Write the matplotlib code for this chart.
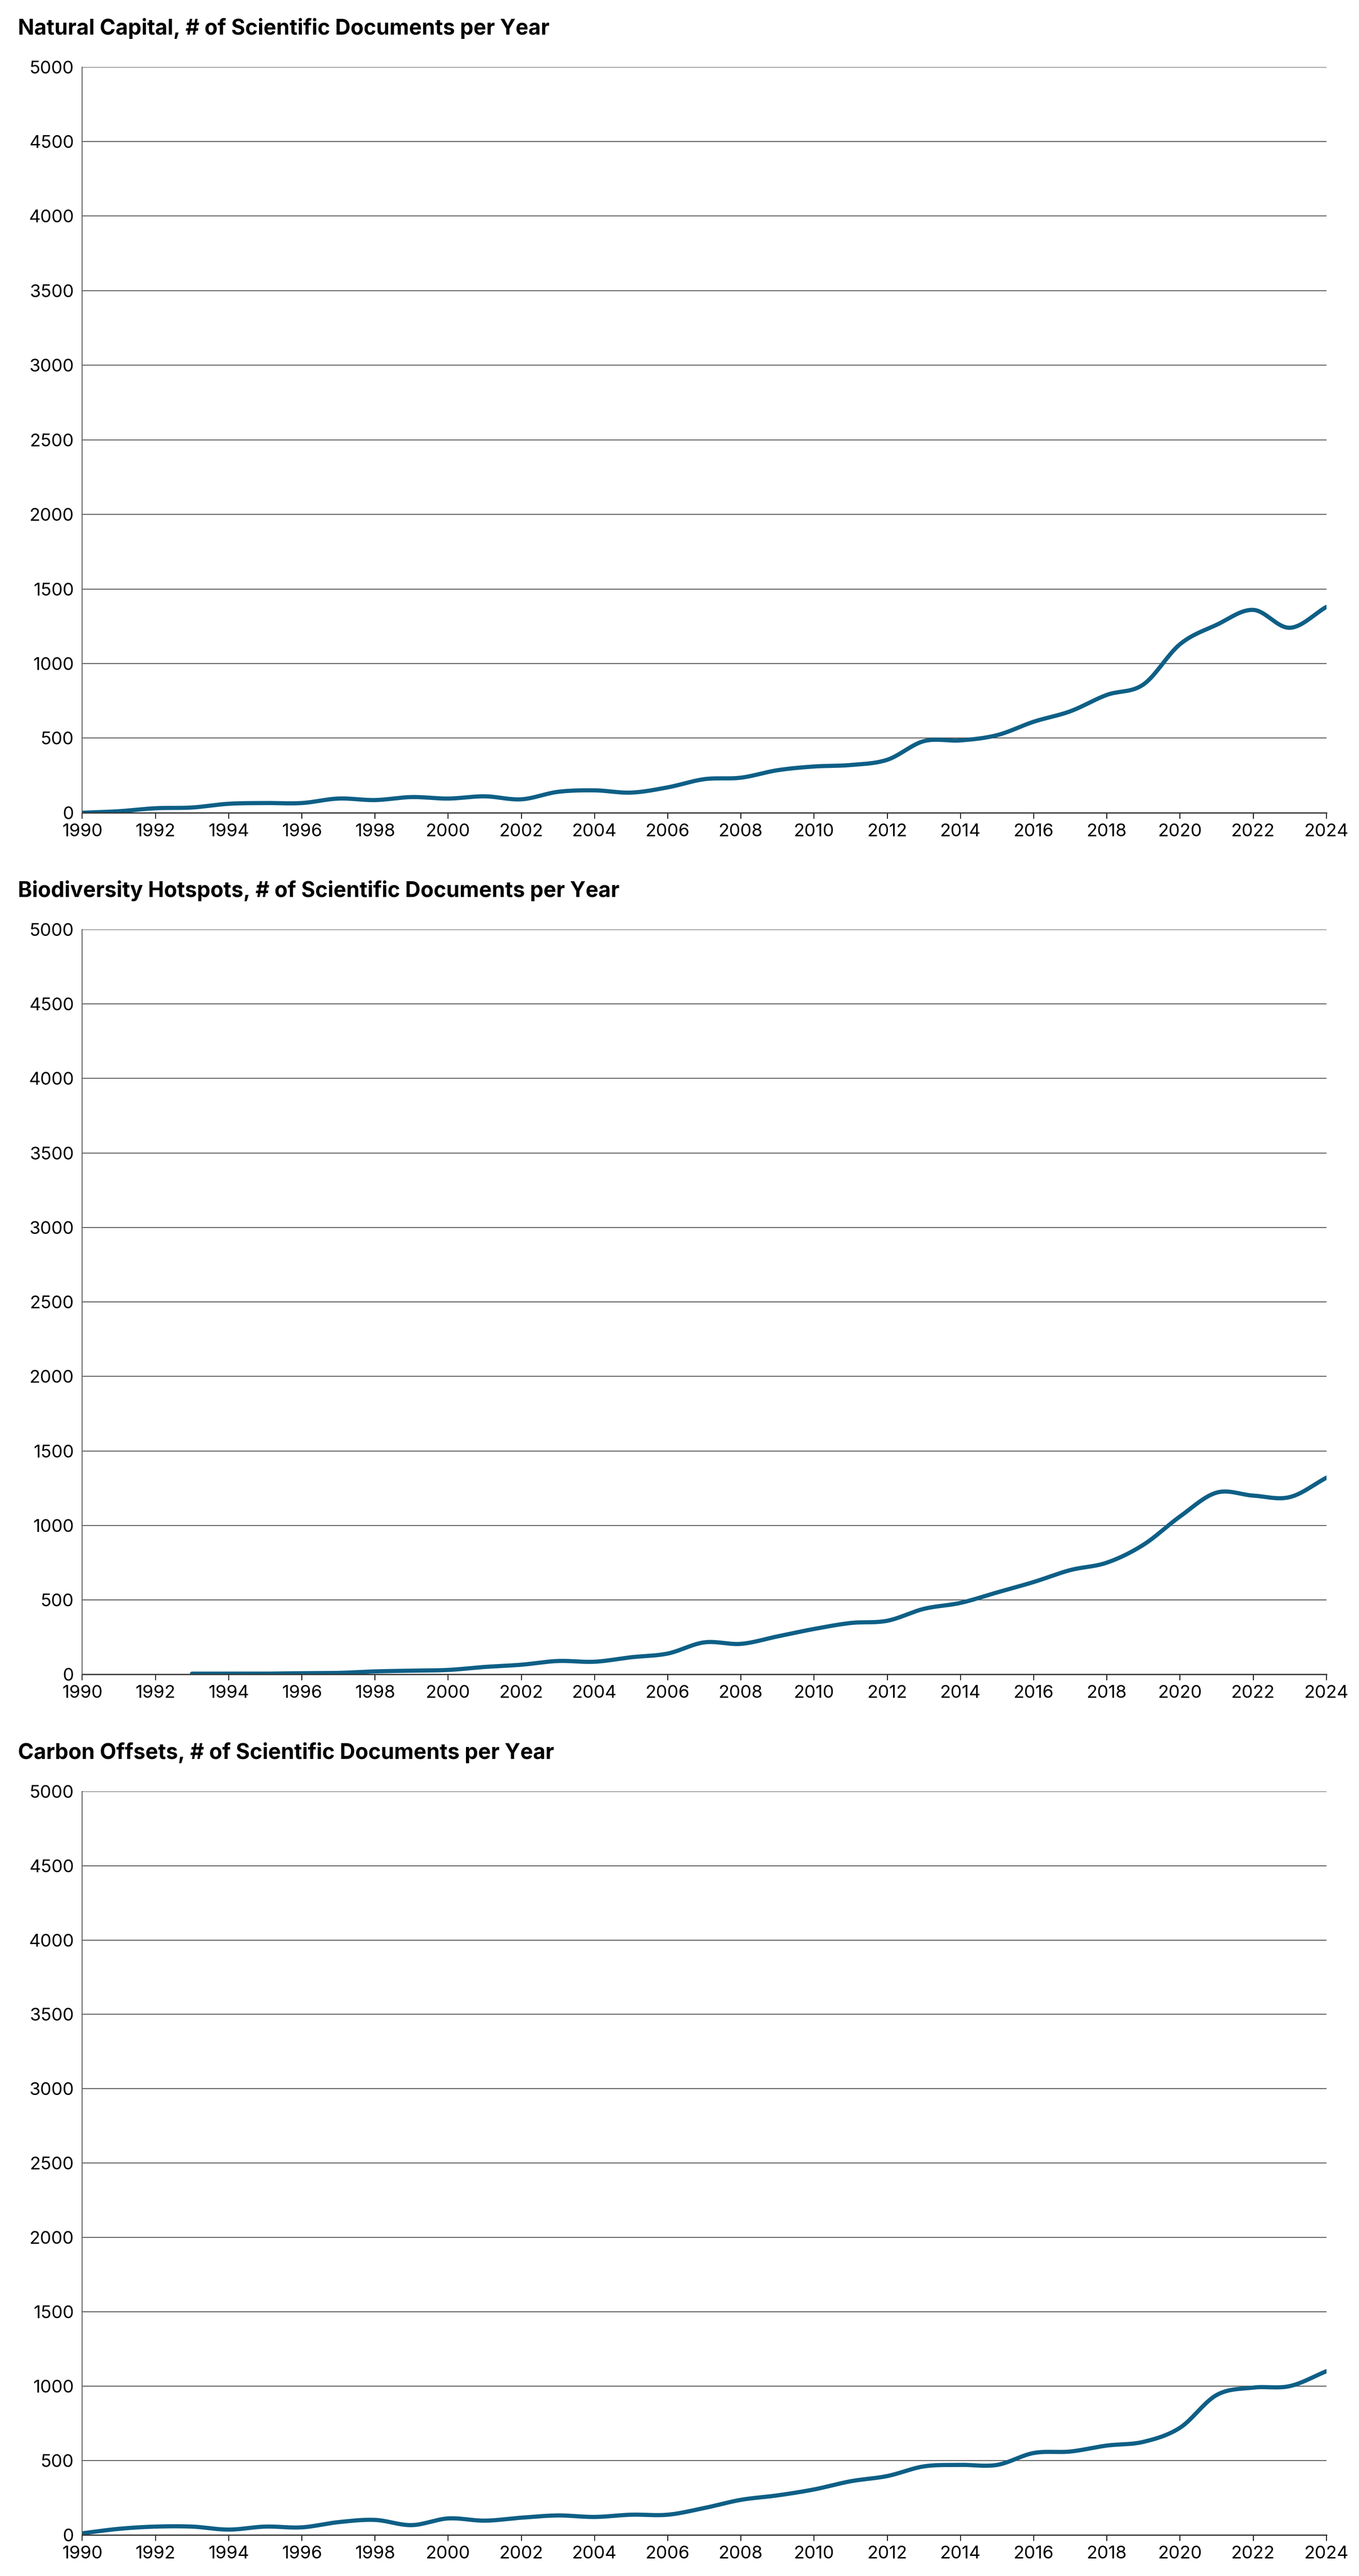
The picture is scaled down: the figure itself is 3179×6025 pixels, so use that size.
import numpy as np
import matplotlib
matplotlib.use('Agg')
import matplotlib.pyplot as plt

plt.rcParams['font.family'] = ['Inter', 'DejaVu Sans']

years = list(range(1990, 2025))

natural_capital = [0, 10, 30, 35, 60, 65, 65, 95, 85, 105, 95, 110, 90, 140, 150, 135, 170, 225,
                   235, 285, 310, 320, 355, 480, 485, 520, 610, 680, 790, 860, 1130, 1260, 1360,
                   1240, 1380]
hotspot_years = list(range(1993, 2025))
biodiversity_hotspots = [5, 5, 5, 8, 10, 20, 25, 30, 50, 65, 90, 85, 115, 140, 215, 205, 255, 305,
                         345, 360, 440, 480, 550, 620, 700, 750, 870, 1060, 1220, 1200, 1190, 1320]
carbon_offsets = [10, 40, 55, 55, 35, 55, 50, 85, 100, 65, 110, 95, 115, 130, 120, 135, 135, 180,
                  235, 265, 305, 360, 395, 460, 470, 470, 550, 560, 600, 625, 720, 940, 990, 1000,
                  1100]

titles = ['Natural Capital, # of Scientific Documents per Year',
          'Biodiversity Hotspots, # of Scientific Documents per Year',
          'Carbon Offsets, # of Scientific Documents per Year']

line_color = '#0e5f86'


def smooth(x, y, n=20):
    # catmull-rom style smoothing like excel's smoothed line
    x = np.asarray(x, float)
    y = np.asarray(y, float)
    px = np.concatenate([[2 * x[0] - x[1]], x, [2 * x[-1] - x[-2]]])
    py = np.concatenate([[2 * y[0] - y[1]], y, [2 * y[-1] - y[-2]]])
    xs, ys = [], []
    t = np.linspace(0, 1, n, endpoint=False)
    for i in range(1, len(px) - 2):
        for p, out in ((px, xs), (py, ys)):
            p0, p1, p2, p3 = p[i - 1], p[i], p[i + 1], p[i + 2]
            out.extend(0.5 * (2 * p1 + (-p0 + p2) * t + (2 * p0 - 5 * p1 + 4 * p2 - p3) * t ** 2
                              + (-p0 + 3 * p1 - 3 * p2 + p3) * t ** 3))
    xs.append(x[-1])
    ys.append(y[-1])
    return xs, ys


fig = plt.figure(figsize=(31.79, 60.25), dpi=100)

panels = [(years, natural_capital, 0.6845, 0.974),
          (hotspot_years, biodiversity_hotspots, 0.350, 0.6392),
          (years, carbon_offsets, 0.016, 0.3046)]

for (xv, yv, bot, top), title in zip(panels, titles):
    ax = fig.add_axes([0.0605, bot, 0.976 - 0.0605, top - bot])
    sx, sy = smooth(xv, yv)
    ax.plot(sx, sy, color=line_color, linewidth=7, solid_capstyle='round')
    ax.set_xlim(1990, 2024)
    ax.set_ylim(0, 5000)
    ax.set_xticks(range(1990, 2025, 2))
    ax.set_yticks(range(0, 5001, 500))
    ax.grid(axis='y', color='#555555', linewidth=1.5)
    ax.set_axisbelow(True)
    for s in ['top', 'right']:
        ax.spines[s].set_visible(False)
    ax.spines['left'].set_color('#555555')
    ax.spines['left'].set_linewidth(1.5)
    ax.spines['bottom'].set_color('#333333')
    ax.spines['bottom'].set_linewidth(2)
    ax.tick_params(axis='y', length=0, labelsize=30, pad=14)
    ax.tick_params(axis='x', length=10, width=1.5, labelsize=30, pad=8)
    fig.text(0.0133, top + 0.015, title, fontsize=36, fontweight='bold', va='center', ha='left')

fig.savefig('out.png', dpi=100)
